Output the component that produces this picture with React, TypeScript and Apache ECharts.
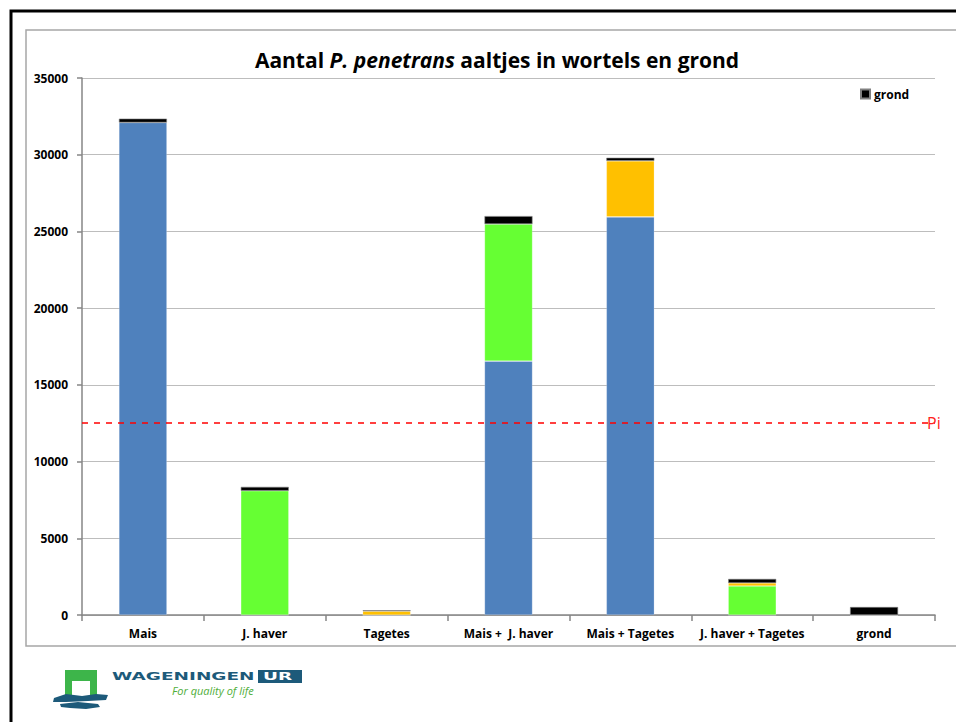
import React, { useEffect, useRef } from "react";
import * as echarts from "echarts";

const categories = ["Mais", "J. haver", "Tagetes", "Mais +  J. haver", "Mais + Tagetes", "J. haver + Tagetes", "grond"];
const maisValues = [32100, 0, 0, 16550, 25950, 0, 0];
const haverValues = [0, 8100, 0, 8930, 0, 1890, 0];
const tagetesValues = [0, 0, 250, 0, 3650, 200, 0];
const grondValues = [250, 250, 60, 520, 200, 260, 520];
const piValue = 12500;
const yTicks = { min: 0, max: 35000, interval: 5000 };

const FONT = "'Open Sans', 'Noto Sans', sans-serif";

export default function App() {
  const ref = useRef<HTMLDivElement>(null);
  useEffect(() => {
    if (!ref.current) return;
    const chart = echarts.init(ref.current, undefined, { renderer: "svg" });
    const barW = 48;
    const mk = (name: string, data: number[], color: string, extra: any = {}) => ({
      name,
      type: "bar",
      stack: "total",
      data,
      barWidth: barW,
      itemStyle: { color, borderColor: color === "#000000" ? "#808080" : "rgba(255,255,255,0.35)", borderWidth: 0.6 },
      ...extra,
    });
    chart.setOption({
      animation: false,
      backgroundColor: "#ffffff",
      textStyle: { fontFamily: FONT },
      title: {
        text: "{a|Aantal }{b|P. penetrans}{a| aaltjes in wortels en grond}",
        left: 492,
        top: 44,
        textAlign: "center",
        textStyle: {
          rich: {
            a: { fontFamily: FONT, fontSize: 21, fontWeight: "bold", color: "#000" },
            b: { fontFamily: FONT, fontSize: 21, fontWeight: "bold", fontStyle: "italic", color: "#000" },
          },
        },
      },
      legend: {
        data: ["grond"],
        left: 855,
        top: 83,
        icon: "rect",
        itemWidth: 9,
        itemHeight: 9,
        itemGap: 4,
        textStyle: { fontFamily: FONT, fontSize: 12, fontWeight: "bold", color: "#000", padding: [0, 0, 0, -1] },
      },
      grid: { left: 82, right: 21, top: 78, bottom: 107 },
      xAxis: {
        type: "category",
        data: categories,
        axisLine: { lineStyle: { color: "#868686", width: 1.5 } },
        axisTick: { show: true, length: 6, lineStyle: { color: "#868686", width: 1.5 } },
        axisLabel: { fontFamily: FONT, fontSize: 12, fontWeight: "bold", color: "#000", margin: 12, interval: 0 },
      },
      yAxis: {
        type: "value",
        min: yTicks.min,
        max: yTicks.max,
        interval: yTicks.interval,
        axisLine: { show: true, lineStyle: { color: "#868686", width: 1.5 } },
        axisTick: { show: true, length: 5, lineStyle: { color: "#868686", width: 1.5 } },
        axisLabel: {
          fontFamily: FONT,
          fontSize: 12,
          fontWeight: "bold",
          color: "#000",
          margin: 14,
          formatter: (v: number) => String(v),
        },
        splitLine: { lineStyle: { color: "#bdbdbd", width: 1 } },
      },
      series: [
        mk("Mais", maisValues, "#4f81bd", {
          markLine: {
            silent: true,
            symbol: "none",
            lineStyle: { color: "#ff0000", type: [6, 6], width: 1.5 },
            label: { show: true, position: "end", formatter: "Pi", color: "#ff2020", fontFamily: FONT, fontSize: 16, distance: -8 },
            data: [{ yAxis: piValue }],
          },
        }),
        mk("J. haver", haverValues, "#66ff33"),
        mk("Tagetes", tagetesValues, "#ffc000"),
        mk("grond", grondValues, "#000000"),
      ],
      graphic: [
        {
          type: "rect",
          shape: { x: 11, y: 11, width: 1000, height: 1000 },
          style: { fill: "none", stroke: "#000", lineWidth: 3 },
          z: -1,
        },
        {
          type: "rect",
          shape: { x: 26, y: 30, width: 1000, height: 616 },
          style: { fill: "none", stroke: "#a6a6a6", lineWidth: 1.5 },
          z: -1,
        },
        {
          type: "polygon",
          shape: { points: [[65, 696], [65, 670], [97, 670], [97, 696], [90, 696], [90, 681], [72, 681], [72, 696]] },
          style: { fill: "#3db54a" },
        },
        {
          type: "polygon",
          shape: {
            points: [[54, 698], [66, 694], [82, 696], [96, 694], [108, 695], [106, 700], [88, 701], [66, 702], [53, 702]],
          },
          style: { fill: "#1d5a7a" },
        },
        {
          type: "polygon",
          shape: {
            points: [[60, 704], [78, 702], [98, 704], [100, 707], [86, 709], [70, 708], [61, 707]],
          },
          style: { fill: "#1d5a7a" },
        },
        {
          type: "text",
          x: 112,
          y: 671,
          scaleX: 1.68,
          style: { text: "WAGENINGEN", fill: "#1d5a7a", font: "bold 11px 'DejaVu Sans'" },
        },
        {
          type: "rect",
          shape: { x: 258, y: 670, width: 44, height: 13 },
          style: { fill: "#1d5a7a" },
        },
        {
          type: "text",
          x: 263,
          y: 671,
          scaleX: 1.68,
          style: { text: "UR", fill: "#fff", font: "bold 11px 'DejaVu Sans'" },
        },
        {
          type: "text",
          x: 172,
          y: 685,
          style: { text: "For quality of life", fill: "#4fae3a", font: "italic 11px 'Open Sans'" },
        },
      ],
    });
    return () => chart.dispose();
  }, []);
  return <div ref={ref} style={{ position: "absolute", left: 0, top: 0, width: 956, height: 722 }} />;
}
